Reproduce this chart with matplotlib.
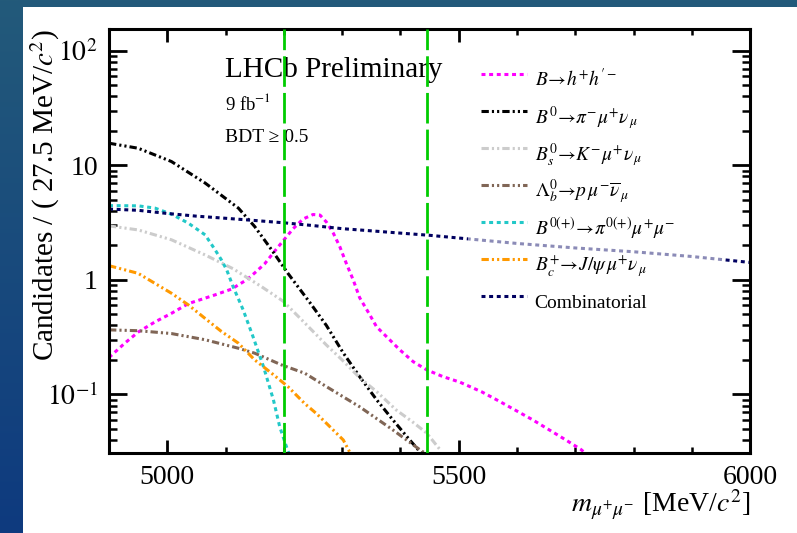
import numpy as np
import matplotlib
matplotlib.use("Agg")
import matplotlib.pyplot as plt
from matplotlib.colors import LinearSegmentedColormap
from matplotlib.patches import Rectangle
from matplotlib.ticker import MultipleLocator, FixedLocator, LogLocator, NullFormatter

plt.rcParams["font.family"] = ["Liberation Serif", "DejaVu Serif"]
plt.rcParams["mathtext.fontset"] = "stix"

# dimuon mass [MeV/c^2] and candidates per 27.5 MeV/c^2 for each component
mass_hh = [4900, 4927, 4950, 4979, 5007, 5036, 5082, 5110, 5136, 5150, 5167,
           5185, 5199, 5216, 5233, 5250, 5262, 5273, 5285, 5296, 5307, 5319,
           5330, 5347, 5359, 5376, 5399, 5422, 5445, 5473, 5502, 5540, 5570,
           5627, 5684, 5710, 5730]
cand_hh = [0.21, 0.28, 0.35, 0.43, 0.51, 0.62, 0.74, 0.83, 1.0, 1.15, 1.38,
           1.8, 2.2, 2.8, 3.4, 3.72, 3.68, 3.2, 2.55, 1.95, 1.4, 1.0,
           0.70, 0.50, 0.39, 0.32, 0.245, 0.193, 0.164, 0.143, 0.128, 0.105, 0.087,
           0.060, 0.040, 0.033, 0.027]

mass_pimunu = [4900, 4950, 5007, 5065, 5122, 5150, 5179, 5207, 5245, 5273,
               5302, 5330, 5359, 5387, 5416, 5440]
cand_pimunu = [15.6, 14.1, 10.8, 7.0, 4.23, 2.92, 1.83, 1.14, 0.63, 0.40,
               0.23, 0.143, 0.09, 0.06, 0.04, 0.029]

mass_kmunu = [4900, 4950, 5007, 5065, 5113, 5162, 5199, 5236, 5273, 5300,
              5330, 5360, 5393, 5420, 5445, 5470]
cand_kmunu = [2.96, 2.73, 2.24, 1.65, 1.25, 0.87, 0.65, 0.42, 0.27, 0.20,
              0.14, 0.105, 0.073, 0.058, 0.046, 0.032]

mass_lb = [4900, 4950, 5007, 5065, 5122, 5150, 5196, 5236, 5273, 5330,
           5387, 5433, 5445]
cand_lb = [0.366, 0.36, 0.34, 0.30, 0.253, 0.229, 0.181, 0.153, 0.117, 0.078,
           0.049, 0.033, 0.030]

mass_pimumu = [4900, 4950, 4979, 5007, 5036, 5065, 5082, 5093, 5102, 5113,
               5130, 5147, 5165, 5182, 5193, 5207, 5212]
cand_pimumu = [4.45, 4.43, 4.23, 3.75, 3.13, 2.47, 1.83, 1.49, 1.22, 0.87,
               0.55, 0.32, 0.175, 0.09, 0.052, 0.032, 0.028]

mass_bc = [4900, 4950, 5007, 5036, 5065, 5093, 5122, 5150, 5179, 5207,
           5236, 5256, 5273, 5302, 5315]
cand_bc = [1.33, 1.14, 0.765, 0.605, 0.46, 0.354, 0.28, 0.20, 0.153, 0.117,
           0.083, 0.068, 0.056, 0.040, 0.030]

mass_comb = [4900, 4950, 5000, 5050, 5100, 5150, 5200, 5250, 5300, 5350,
             5400, 5450, 5500, 5600, 5700, 5800, 5900, 6000]
cand_comb = [4.15, 4.05, 3.8, 3.6, 3.45, 3.3, 3.15, 2.98, 2.8, 2.68,
             2.56, 2.45, 2.32, 2.08, 1.9, 1.76, 1.6, 1.42]

# signal window edges
window_edges = [5200, 5445]

DOTTED = (0, (1.3, 1.2))
DASHDOTDOT = (0, (2.4, 1.0, 0.7, 1.0, 0.7, 1.0))

components = [
    (mass_hh, cand_hh, "#ff00ff", DOTTED, r"$B\!\rightarrow\! h^{+}h^{\prime -}$"),
    (mass_pimunu, cand_pimunu, "#000000", DASHDOTDOT,
     r"$B^{0}\!\rightarrow\!\pi^{-}\mu^{+}\nu_{\,\mu}$"),
    (mass_kmunu, cand_kmunu, "#cccccc", DASHDOTDOT,
     r"$B^{0}_{s}\!\rightarrow\! K^{-}\mu^{+}\nu_{\,\mu}$"),
    (mass_lb, cand_lb, "#806656", DASHDOTDOT,
     r"$\Lambda^{0}_{b}\!\rightarrow\! p\,\mu^{-}\overline{\nu}_{\,\mu}$"),
    (mass_pimumu, cand_pimumu, "#22c8c8", DOTTED,
     r"$B^{0(+)}\!\rightarrow\!\pi^{0(+)}\mu^{+}\mu^{-}$"),
    (mass_bc, cand_bc, "#ff9900", DASHDOTDOT,
     r"$B^{+}_{c}\!\rightarrow\! J/\psi\,\mu^{+}\nu_{\,\mu}$"),
    (mass_comb, cand_comb, "#000060", DOTTED, "Combinatorial"),
]

fig = plt.figure(figsize=(7.97, 5.33), dpi=100)

# slide background with white panel
bg = fig.add_axes([0, 0, 1, 1], zorder=-10)
slide = LinearSegmentedColormap.from_list("slide", ["#235a7a", "#0e3a7f"])
bg.imshow(np.linspace(0, 1, 256)[:, None], aspect="auto", cmap=slide,
          extent=[0, 1, 0, 1], origin="upper")
bg.add_patch(Rectangle((23 / 797, 0), 1, 526 / 533, transform=bg.transAxes,
                       facecolor="white", edgecolor="none"))
bg.set_xlim(0, 1)
bg.set_ylim(0, 1)
bg.set_axis_off()

ax = fig.add_axes([0.1368, 0.1507, 0.8043, 0.7949])

for mass, cand, color, ls, label in components:
    ax.plot(mass, cand, color=color, ls=ls, lw=2.2, label=label,
            solid_capstyle="butt", dash_capstyle="butt")

for edge in window_edges:
    ax.axvline(edge, color="#00cc00", lw=2.0, ls=(0, (11, 2.2)), zorder=6)

ax.set_yscale("log")
ax.set_xlim(4900, 6000)
ax.set_ylim(0.031, 155)

ax.xaxis.set_major_locator(MultipleLocator(500))
ax.xaxis.set_minor_locator(MultipleLocator(100))
ax.yaxis.set_major_locator(FixedLocator([0.1, 1, 10, 100]))
ax.set_yticklabels([r"$10^{-1}$", "1", "10", r"$10^{2}$"])
ax.yaxis.set_minor_locator(LogLocator(base=10, subs=np.arange(2, 10)))
ax.yaxis.set_minor_formatter(NullFormatter())

for spine in ax.spines.values():
    spine.set_linewidth(2.2)

ax.tick_params(which="both", direction="in", top=True, right=True,
               labelsize=20, colors="black")
ax.tick_params(axis="x", which="major", length=9.5, width=2.0, pad=9)
ax.tick_params(axis="x", which="minor", length=4.5, width=1.8)
ax.tick_params(axis="y", which="major", length=13, width=2.0, pad=8)
ax.tick_params(axis="y", which="minor", length=6, width=1.8)

ax.set_ylabel(r"Candidates / ( 27.5 MeV/$c^{2}$)", fontsize=21, loc="top")
ax.yaxis.set_label_coords(-0.073, 1.0)
ax.set_xlabel(r"$m_{\mu^{+}\mu^{-}}$ [MeV/$c^{2}$]", fontsize=20, loc="right")
ax.xaxis.set_label_coords(1.0, -0.083)

ax.text(0.181, 0.903, "LHCb Preliminary", transform=ax.transAxes,
        fontsize=21, va="center", ha="left")
ax.text(0.181, 0.825, r"9 fb$^{-1}$", transform=ax.transAxes,
        fontsize=13.5, va="center", ha="left")
ax.text(0.181, 0.745, "BDT \u2265 0.5", transform=ax.transAxes,
        fontsize=14, va="center", ha="left")

# translucent legend pad (fixed width box behind the entries)
ax.add_patch(Rectangle((0.56, 0.30), 0.398, 0.655, transform=ax.transAxes,
                       facecolor="white", edgecolor="none", alpha=0.55, zorder=4.5))
ax.legend(loc="upper left", bbox_to_anchor=(0.56, 0.953), borderaxespad=0,
          fontsize=14, handlelength=2.35, handleheight=2.55, labelspacing=0.0,
          handletextpad=0.4, borderpad=0.67, frameon=False)

fig.savefig("out.png", dpi=100)
